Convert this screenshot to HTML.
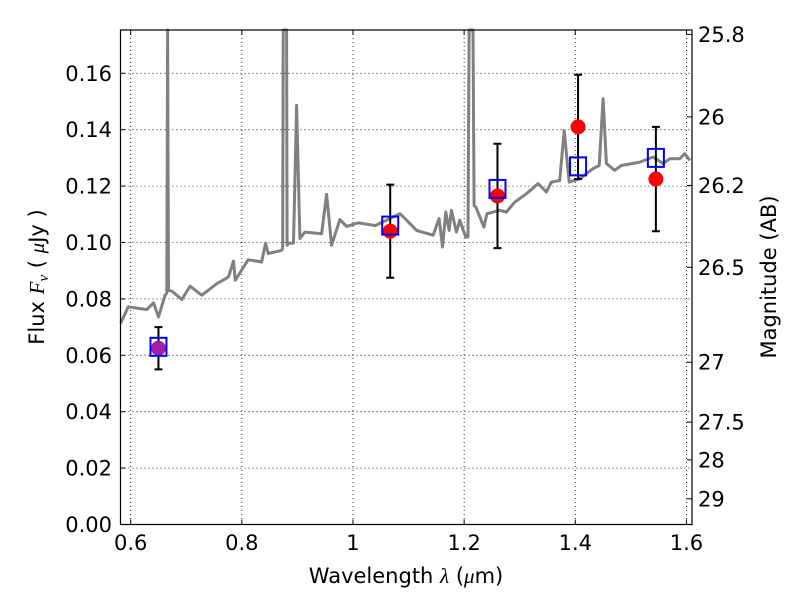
<!DOCTYPE html>
<html><head><meta charset="utf-8"><style>
body{margin:0;background:#fff}
svg text{font-family:"DejaVu Sans","Liberation Sans",sans-serif;fill:#000}
</style></head><body>
<svg id="chart" width="800" height="600" xmlns="http://www.w3.org/2000/svg">
<rect width="800" height="600" fill="#fff"/>
<g id="grid"></g>
<g id="spec"></g>
<g id="pts"></g>
<rect x="120.5" y="30" width="571.5" height="494.5" fill="none" stroke="#000" stroke-width="1.2"/>
<g id="axes"></g>
<text x="406" y="583" font-size="21" text-anchor="middle">Wavelength  <tspan font-style="italic" font-family="Liberation Serif">λ</tspan> (<tspan font-style="italic" font-family="Liberation Serif">μ</tspan>m)</text>
<text transform="translate(44,277) rotate(-90)" font-size="21" text-anchor="middle">Flux  <tspan font-style="italic" font-family="Liberation Serif">F<tspan font-size="15" dy="4">ν</tspan></tspan><tspan dy="-4">  ( </tspan><tspan font-style="italic" font-family="Liberation Serif">μ</tspan>Jy )</text>
<text transform="translate(776,277) rotate(-90)" font-size="21" text-anchor="middle">Magnitude (AB)</text>
</svg>
<script>
const xTicks=[0.6,0.8,1.0,1.2,1.4,1.6];
const xTickLabels=["0.6","0.8","1","1.2","1.4","1.6"];
const yTicks=[0,0.02,0.04,0.06,0.08,0.10,0.12,0.14,0.16];
const yTickLabels=["0.00","0.02","0.04","0.06","0.08","0.10","0.12","0.14","0.16"];
const magTicks=[25.8,26,26.2,26.5,27,27.5,28,29];
const magTickLabels=["25.8","26","26.2","26.5","27","27.5","28","29"];
const specWave=[0.582,0.5957,0.629,0.641,0.650,0.662,0.665,0.6665,0.668,0.674,0.692,0.707,0.728,0.755,0.776,0.785,0.788,0.8115,0.8356,0.8428,0.8475,0.8716,0.8735,0.8745,0.8805,0.8815,0.8853,0.893,0.8986,0.9045,0.9135,0.9435,0.9525,0.9615,0.9765,0.9885,1.01,1.04,1.0844,1.0964,1.1144,1.1443,1.155,1.161,1.167,1.173,1.177,1.186,1.192,1.203,1.207,1.209,1.216,1.218,1.221,1.2355,1.241,1.264,1.276,1.291,1.312,1.333,1.348,1.357,1.372,1.380,1.389,1.408,1.432,1.443,1.450,1.456,1.471,1.483,1.516,1.540,1.558,1.570,1.588,1.597,1.606];
const specFlux=[0.0714,0.0772,0.0762,0.0786,0.0736,0.0813,0.082,0.18,0.083,0.0828,0.0798,0.0845,0.0813,0.0854,0.0878,0.0934,0.0866,0.0939,0.0931,0.0998,0.0961,0.0972,0.098,0.18,0.18,0.099,0.0998,0.0998,0.1486,0.1014,0.1037,0.1031,0.1171,0.099,0.1081,0.1057,0.107,0.106,0.1102,0.1079,0.1043,0.1026,0.1085,0.0984,0.1108,0.1043,0.1114,0.1037,0.1079,0.1019,0.102,0.18,0.18,0.113,0.1126,0.1055,0.1102,0.1114,0.1108,0.1143,0.1173,0.1209,0.1179,0.1214,0.122,0.1397,0.1214,0.1226,0.1262,0.1273,0.151,0.128,0.1256,0.1273,0.1285,0.1303,0.128,0.1297,0.1297,0.1315,0.1291];
const bandWave=[0.65,1.067,1.26,1.405,1.545];
const obsFlux=[0.0625,0.104,0.1165,0.141,0.1225];
const obsErr=[0.0075,0.0165,0.0185,0.0185,0.0185];
const modelFlux=[0.063,0.106,0.119,0.127,0.130];

const X0=120.5,X1=692,Y0=524.5,Y1=30,xmin=0.5817,xmax=1.610,ymin=0,ymax=0.17535;
const sx=v=>X0+(v-xmin)/(xmax-xmin)*(X1-X0);
const sy=v=>Y0-(v-ymin)/(ymax-ymin)*(Y0-Y1);
const NS="http://www.w3.org/2000/svg";
function mk(t,a,p){const e=document.createElementNS(NS,t);for(const k in a)e.setAttribute(k,a[k]);p.appendChild(e);return e;}
const grid=document.getElementById('grid'),axes=document.getElementById('axes');
xTicks.forEach((v,i)=>{const x=sx(v);
 const g=mk('line',{x1:x,x2:x,y1:Y1,y2:Y0,stroke:'#000','stroke-width':0.8,'stroke-dasharray':'1,3'},grid);
 
 const t1=mk('line',{x1:x,x2:x,y1:Y0,y2:Y0-5,stroke:'#000'},axes);
 
 const t2=mk('line',{x1:x,x2:x,y1:Y1,y2:Y1+5,stroke:'#000'},axes);
 
 const l=mk('text',{x:x,y:550,'font-size':21,'text-anchor':'middle'},axes);l.textContent=xTickLabels[i];
 
});
yTicks.forEach((v,i)=>{const y=sy(v);
 if(i>0){const g=mk('line',{x1:X0,x2:X1,y1:y,y2:y,stroke:'#000','stroke-width':0.8,'stroke-dasharray':'1,3'},grid);
 }
 const t=mk('line',{x1:X0,x2:X0+5,y1:y,y2:y,stroke:'#000'},axes);
 
 const l=mk('text',{x:112,y:y+7.5,'font-size':21,'text-anchor':'end'},axes);l.textContent=yTickLabels[i];
 
});
magTicks.forEach((m,i)=>{const f=Math.pow(10,(23.9-m)/2.5);const y=sy(f);
 const t=mk('line',{x1:X1,x2:X1-5,y1:y,y2:y,stroke:'#000'},axes);
 
 const l=mk('text',{x:698,y:y+7.5,'font-size':21},axes);l.textContent=magTickLabels[i];
 
});
const spec=document.getElementById('spec');
const d=specWave.map((w,i)=>(i?'L':'M')+sx(w).toFixed(1)+','+Math.max(Y1,sy(specFlux[i])).toFixed(1)).join(' ');
const sp=mk('path',{d:d,fill:'none',stroke:'#808080','stroke-width':3,'stroke-linejoin':'round'},spec);

const pts=document.getElementById('pts');
bandWave.forEach((w,i)=>{const x=sx(w);
 const yt=sy(obsFlux[i]+obsErr[i]),yb=sy(obsFlux[i]-obsErr[i]);
 const e=mk('path',{d:`M${x},${yt}L${x},${yb}M${x-4},${yt}L${x+4},${yt}M${x-4},${yb}L${x+4},${yb}`,stroke:'#000','stroke-width':2,fill:'none'},pts);
 
 const c=mk('circle',{cx:x,cy:sy(obsFlux[i]),r:7.5,fill:i===0?'#a020a0':'#ff0000'},pts);
 
 const my=sy(modelFlux[i]);
 const s=mk('rect',{x:x-8,y:my-9,width:16,height:18,fill:'none',stroke:'#0000ff','stroke-width':2},pts);
 
});
</script>
</body></html>
